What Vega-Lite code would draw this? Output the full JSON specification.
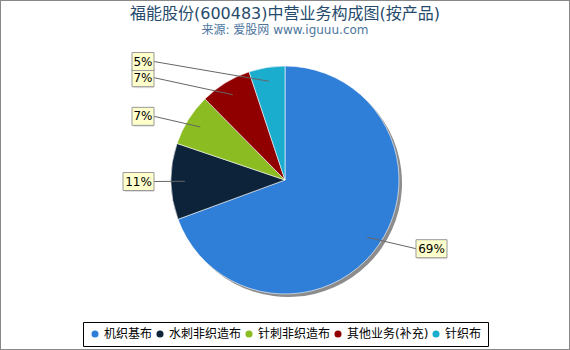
{
  "$schema": "https://vega.github.io/schema/vega-lite/v6.json",
  "width": 570,
  "height": 350,
  "autosize": "none",
  "padding": 0,
  "background": "white",
  "config": {
    "font": "DejaVu Sans, Noto Sans CJK SC",
    "view": {"stroke": "#888888", "strokeWidth": 2},
    "legend": {"layout": {"bottom": {"anchor": "middle"}}}
  },
  "title": {
    "text": "福能股份(600483)中营业务构成图(按产品)",
    "subtitle": "来源: 爱股网 www.iguuu.com",
    "fontSize": 16,
    "fontWeight": "normal",
    "color": "#274b6d",
    "subtitleFontSize": 12,
    "subtitleColor": "#4d759e",
    "subtitlePadding": 3,
    "offset": -36,
    "anchor": "middle"
  },
  "data": {
    "values": [
      {"product": "机织基布", "value": 69.4, "label": "69%"},
      {"product": "水刺非织造布", "value": 10.8, "label": "11%"},
      {"product": "针刺非织造布", "value": 7.4, "label": "7%"},
      {"product": "其他业务(补充)", "value": 7.3, "label": "7%"},
      {"product": "针织布", "value": 5.1, "label": "5%"}
    ]
  },
  "transform": [
    {"window": [{"op": "sum", "field": "value", "as": "cum"}], "frame": [null, 0]},
    {"calculate": "datum.cum - datum.value", "as": "start"},
    {"calculate": "(datum.cum - datum.value / 2) / 100 * 2 * PI", "as": "ang"},
    {"calculate": "sin(datum.ang) < 0 ? -1 : 1", "as": "side"},
    {"calculate": "length(datum.label) > 2 ? 15.5 : 11", "as": "hw"},
    {"calculate": "datum.side * 131", "as": "ex"},
    {"calculate": "datum.side * (131 + datum.hw)", "as": "lx"},
    {"calculate": "120 * cos(datum.ang)", "as": "ly"},
    {"calculate": "100 * sin(datum.ang)", "as": "cx"},
    {"calculate": "100 * cos(datum.ang)", "as": "cy"},
    {"calculate": "datum.lx - datum.hw", "as": "bx1"},
    {"calculate": "datum.lx + datum.hw", "as": "bx2"},
    {"calculate": "datum.ly - 9", "as": "by1"},
    {"calculate": "datum.ly + 9", "as": "by2"}
  ],
  "layer": [
    {
      "mark": {"type": "arc", "outerRadius": 114, "xOffset": 3, "yOffset": 3, "fill": "#8c8c8c"},
      "encoding": {
        "x": {"datum": 0, "type": "quantitative", "scale": {"domain": [-285, 285], "nice": false, "zero": false}, "axis": null},
        "y": {"datum": 0, "type": "quantitative", "scale": {"domain": [-170, 180], "nice": false, "zero": false}, "axis": null},
        "theta": {"field": "start", "type": "quantitative", "scale": {"domain": [0, 100]}},
        "theta2": {"field": "cum"}
      }
    },
    {
      "mark": {"type": "arc", "outerRadius": 114, "stroke": "#ffffff", "strokeWidth": 0.6},
      "encoding": {
        "x": {"datum": 0, "type": "quantitative", "axis": null},
        "y": {"datum": 0, "type": "quantitative", "axis": null},
        "theta": {"field": "start", "type": "quantitative", "scale": {"domain": [0, 100]}},
        "theta2": {"field": "cum"},
        "color": {
          "field": "product",
          "type": "nominal",
          "scale": {
            "domain": ["机织基布", "水刺非织造布", "针刺非织造布", "其他业务(补充)", "针织布"],
            "range": ["#2f7ed8", "#0d233a", "#8bbc21", "#910000", "#1aadce"]
          },
          "legend": {
            "title": null,
            "orient": "bottom",
            "direction": "horizontal",
            "symbolType": "circle",
            "symbolSize": 50,
            "symbolStrokeWidth": 0,
            "labelFontSize": 12,
            "labelColor": "#000000",
            "labelFont": "DejaVu Sans, Noto Sans CJK SC",
            "labelLimit": 300,
            "strokeColor": "#000000",
            "padding": 6,
            "columnPadding": 1,
            "labelOffset": 3,
            "offset": -28
          }
        }
      }
    },
    {
      "mark": {"type": "rule", "color": "#666666", "strokeWidth": 1},
      "encoding": {
        "x": {"field": "cx", "type": "quantitative", "axis": null},
        "y": {"field": "cy", "type": "quantitative", "axis": null},
        "x2": {"field": "ex"},
        "y2": {"field": "ly"}
      }
    },
    {
      "mark": {"type": "rect", "fill": "#000000", "opacity": 0.12, "xOffset": 1.5, "yOffset": 1.5},
      "encoding": {
        "x": {"field": "bx1", "type": "quantitative", "axis": null},
        "x2": {"field": "bx2"},
        "y": {"field": "by1", "type": "quantitative", "axis": null},
        "y2": {"field": "by2"}
      }
    },
    {
      "mark": {"type": "rect", "fill": "#ffffcc", "stroke": "#999999", "strokeWidth": 1},
      "encoding": {
        "x": {"field": "bx1", "type": "quantitative", "axis": null},
        "x2": {"field": "bx2"},
        "y": {"field": "by1", "type": "quantitative", "axis": null},
        "y2": {"field": "by2"}
      }
    },
    {
      "mark": {"type": "text", "fontSize": 12, "font": "DejaVu Sans", "color": "#000000", "align": "center", "baseline": "middle"},
      "encoding": {
        "x": {"field": "lx", "type": "quantitative", "axis": null},
        "y": {"field": "ly", "type": "quantitative", "axis": null},
        "text": {"field": "label"}
      }
    }
  ]
}
